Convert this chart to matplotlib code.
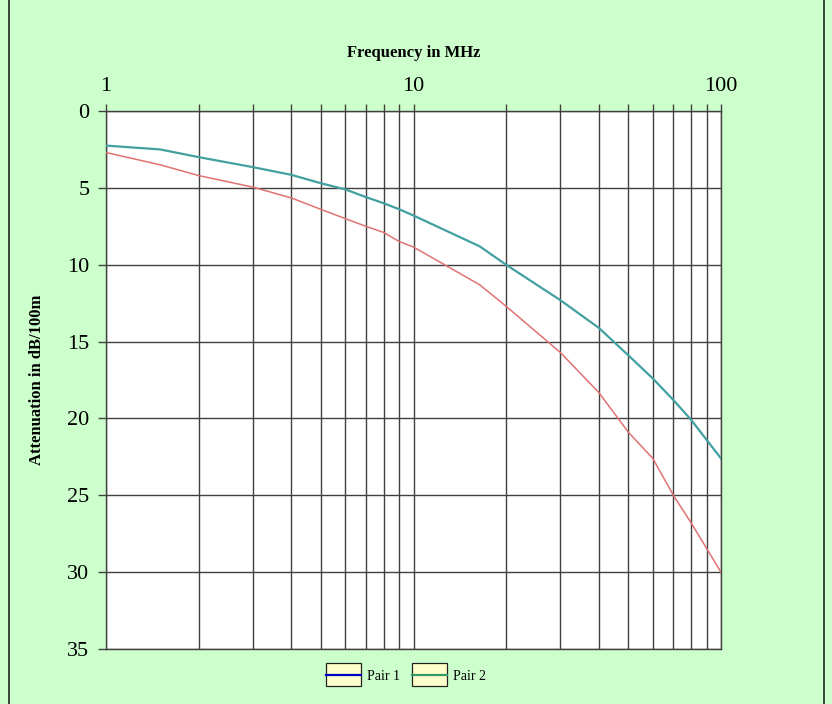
import matplotlib
matplotlib.use("Agg")
import matplotlib.pyplot as plt
from matplotlib.lines import Line2D
from matplotlib.patches import Rectangle
from matplotlib.legend_handler import HandlerBase
from matplotlib.ticker import FixedLocator, NullFormatter, FixedFormatter

plt.rcParams['font.family'] = ['Liberation Serif', 'DejaVu Serif']

freq = [1, 1.5, 2, 3, 4, 5, 6, 7, 8, 9, 10, 16.4, 20, 30, 40, 50, 60, 70, 80, 100]
pair1 = [2.25, 2.5, 3.0, 3.65, 4.15, 4.7, 5.1, 5.6, 6.0, 6.4, 6.8, 8.8, 10.0, 12.3, 14.1, 15.9, 17.4, 18.8, 20.1, 22.6]
pair2 = [2.7, 3.5, 4.2, 4.95, 5.65, 6.4, 7.0, 7.5, 7.9, 8.5, 8.85, 11.3, 12.7, 15.7, 18.3, 20.9, 22.6, 25.0, 26.8, 30.0]
series_names = ["Pair 1", "Pair 2"]
x_major = [1, 10, 100]
x_major_labels = ["1", "10", "100"]
x_minor = [2, 3, 4, 5, 6, 7, 8, 9, 20, 30, 40, 50, 60, 70, 80, 90]
y_ticks = [0, 5, 10, 15, 20, 25, 30, 35]

fig = plt.figure(figsize=(8.32, 7.04), dpi=100)
fig.patch.set_facecolor('#ccffcc')
ax = fig.add_axes([106/832, 1-649/704, (721-106)/832, (649-111)/704])
ax.set_facecolor('white')

ax.plot(freq, pair1, color='#42a0a0', lw=1.6, zorder=3)
ax.plot(freq, pair2, color='#e07272', lw=1.1, zorder=3)

ax.set_xscale('log')
ax.set_xlim(1, 100)
ax.set_ylim(35, 0)
ax.xaxis.set_major_locator(FixedLocator(x_major))
ax.xaxis.set_major_formatter(FixedFormatter(x_major_labels))
ax.xaxis.set_minor_locator(FixedLocator(x_minor))
ax.xaxis.set_minor_formatter(NullFormatter())
ax.set_yticks(y_ticks)
ax.xaxis.tick_top()
ax.xaxis.set_label_position('top')
ax.tick_params(axis='x', which='both', direction='out', length=5, width=1, color='#404040', labelsize=16, pad=6)
ax.tick_params(axis='y', which='both', direction='out', length=6, width=1, color='#404040', labelsize=16, pad=6)
ax.grid(True, which='both', axis='x', color='#404040', lw=1)
ax.grid(True, which='major', axis='y', color='#404040', lw=1)
for s in ax.spines.values():
    s.set_color('#404040')
    s.set_linewidth(1)

ax.set_xlabel("Frequency in MHz", fontsize=12, fontweight='bold', labelpad=14)
ax.set_ylabel("Attenuation in dB/100m", fontsize=12, fontweight='bold')
ax.yaxis.set_label_coords(-(106 - 45) / 615, 0.5)


class BoxLineHandler(HandlerBase):
    def create_artists(self, legend, orig_handle, xdescent, ydescent, width, height, fontsize, trans):
        rect = Rectangle((-xdescent, -ydescent - height * 0.7), width, height * 2.4,
                         facecolor='#ffffcc', edgecolor='#222222', lw=0.9, transform=trans)
        line = Line2D([-xdescent, -xdescent + width], [height / 2 - ydescent] * 2,
                      color=orig_handle.get_color(), lw=1.6, transform=trans)
        return [rect, line]


handles = [Line2D([], [], color='#0000cc'), Line2D([], [], color='#339966')]
fig.legend(handles, series_names, loc='center', bbox_to_anchor=(406/832, 1-676/704), ncol=2,
           frameon=False, fontsize=10, handlelength=2.5, handletextpad=0.45, columnspacing=0.9,
           handler_map={Line2D: BoxLineHandler()})

fig.add_artist(Line2D([9/832, 9/832], [0, 1], transform=fig.transFigure, color='#222222', lw=1.2))
fig.add_artist(Line2D([824/832, 824/832], [0, 1], transform=fig.transFigure, color='#222222', lw=1.2))

fig.savefig('out.png', dpi=100, facecolor=fig.get_facecolor())
